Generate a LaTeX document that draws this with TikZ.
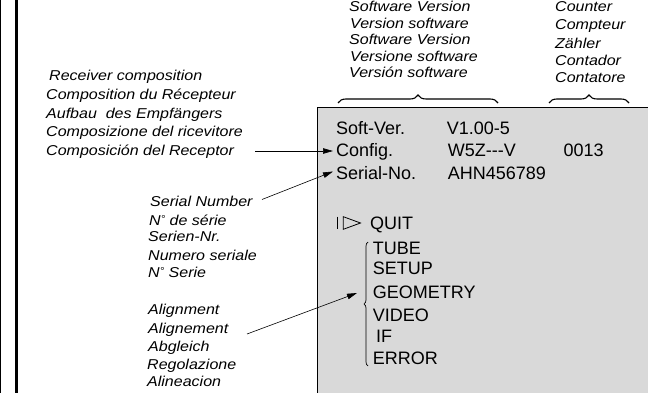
\documentclass[tikz,border=0pt]{standalone}
\usepackage{fontspec}
\setmainfont{Liberation Sans}
\newfontfamily\labfont[FakeStretch=1.12]{Liberation Sans}
\usetikzlibrary{arrows.meta,decorations.pathreplacing}
\definecolor{boxgrey}{HTML}{D9D9D9}
\newcommand{\mydeg}{\raisebox{3.5pt}{\fontsize{10}{10}\selectfont°}}
\tikzset{
  lab/.style={anchor=base west,inner sep=0pt,font=\labfont\itshape\fontsize{14.3}{16}\selectfont},
  scr/.style={anchor=base west,inner sep=0pt,font=\fontsize{18}{20}\selectfont},
  arr/.style={-{Triangle[length=10pt,width=5.5pt]},line width=0.6pt},
  topbrace/.style={decorate,decoration={brace,amplitude=8pt},line width=1.1pt},
  menubrace/.style={decorate,decoration={brace,amplitude=4pt},line width=0.7pt}
}
\begin{document}
\begin{tikzpicture}[x=1pt,y=-1pt]
\useasboundingbox (0,0) rectangle (648,393);
% left border lines
\draw[line width=1pt] (0.5,0) -- (0.5,393);
\draw[line width=3pt] (16.5,0) -- (16.5,393);
% screen box
\fill[boxgrey] (317,108) rectangle (648,393);
\draw[line width=1pt] (317,393) -- (317,108) -- (648,108);
% top labels
\node[lab] (sv1) at (349,11.7) {Software Version};
\node[lab] (sv2) at (350,28.3) {Version software};
\node[lab] (sv3) at (349,45) {Software Version};
\node[lab] (sv4) at (350,61.7) {Versione software};
\node[lab] (sv5) at (349,77.5) {Versión software};
\node[lab] (ct1) at (555,11.7) {Counter};
\node[lab] (ct2) at (555,30) {Compteur};
\node[lab] (ct3) at (555,48.3) {Zähler};
\node[lab] (ct4) at (555,65.7) {Contador};
\node[lab] (ct5) at (555,82.3) {Contatore};
% braces
\coordinate (b1a) at (338,103);
\coordinate (b1b) at (498,103);
\coordinate (b2a) at (549,103);
\coordinate (b2b) at (629,103);
\draw[topbrace] (b1a) -- (b1b);
\draw[topbrace] (b2a) -- (b2b);
% receiver composition
\node[lab] (rc1) at (49,80.7) {Receiver composition};
\node[lab] (rc2) at (46,100) {Composition du Récepteur};
\node[lab] (rc3) at (46,118.3) {Aufbau\ \ des Empfängers};
\node[lab] (rc4) at (46,136.7) {Composizione del ricevitore};
\node[lab] (rc5) at (46,155.7) {Composición del Receptor};
% serial number
\node[lab] (sn1) at (150,206.7) {Serial Number};
\node[lab] (sn2) at (149,225.7) {N\mydeg\ de série};
\node[lab] (sn3) at (148,241) {Serien-Nr.};
\node[lab] (sn4) at (148,260) {Numero seriale};
\node[lab] (sn5) at (148,277.7) {N\mydeg\ Serie};
% alignment
\node[lab] (al1) at (148,314.3) {Alignment};
\node[lab] (al2) at (148,333.3) {Alignement};
\node[lab] (al3) at (148,351.7) {Abgleich};
\node[lab] (al4) at (147,369.3) {Regolazione};
\node[lab] (al5) at (147,386.7) {Alineacion};
% screen text
\node[scr] (softver) at (336,135) {Soft-Ver.};
\node[scr] (config) at (336,157) {Config.};
\node[scr] (serialno) at (336,179) {Serial-No.};
\node[scr] (vnum) at (446.7,135) {V1.00-5};
\node[scr] (cnum) at (447.7,157) {W5Z{-}{-}{-}V};
\node[scr] (snum) at (447.7,179) {AHN456789};
\node[scr] (count) at (563.3,157) {0013};
% menu
\draw[line width=0.8pt] (337.5,216.7) -- (337.5,229.3);
\draw[line width=0.8pt,line join=miter] (343.3,216.7) -- (360.5,223) -- (343.3,229.3) -- cycle;
\node[scr] (quit) at (370,229.3) {QUIT};
\node[scr] (tube) at (372.7,254) {TUBE};
\node[scr] (setup) at (372.7,274) {SETUP};
\node[scr] (geom) at (372.7,298.3) {GEOMETRY};
\node[scr] (video) at (372.7,321.7) {VIDEO};
\node[scr] (iff) at (376,342.7) {IF};
\node[scr] (error) at (372.7,364) {ERROR};
\coordinate (mba) at (368,366);
\coordinate (mbb) at (368,242);
\draw[menubrace] (mba) -- (mbb);
% arrows
\coordinate (a1s) at (255,151);
\coordinate (a1e) at (333,151);
\coordinate (a2s) at (262,199.5);
\coordinate (a2e) at (333,171.5);
\coordinate (a3s) at (247,334);
\coordinate (a3e) at (357,293);
\draw[arr] (a1s) -- (a1e);
\draw[arr] (a2s) -- (a2e);
\draw[arr] (a3s) -- (a3e);
\end{tikzpicture}
\end{document}
